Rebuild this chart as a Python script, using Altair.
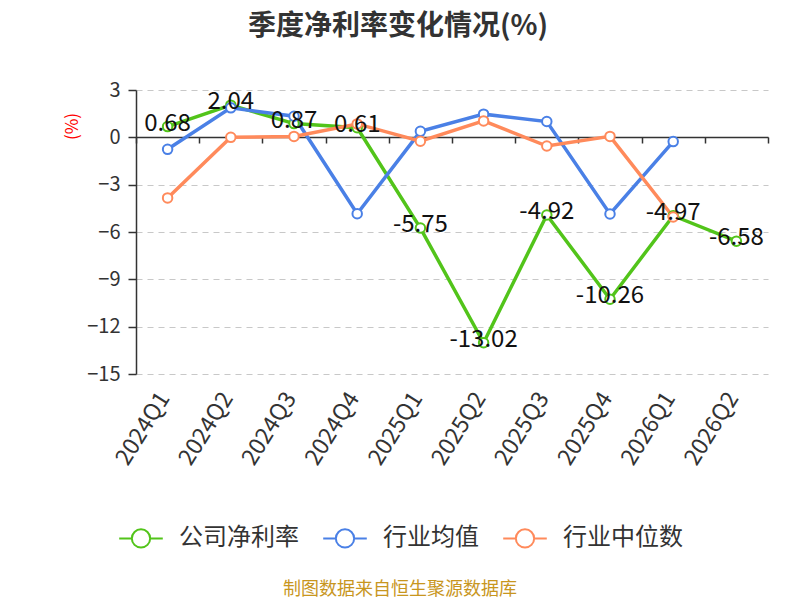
import altair as alt
import pandas as pd

quarters = ["2024Q1", "2024Q2", "2024Q3", "2024Q4", "2025Q1", "2025Q2", "2025Q3", "2025Q4", "2026Q1", "2026Q2"]
company = [0.68, 2.04, 0.87, 0.61, -5.75, -13.02, -4.92, -10.26, -4.97, -6.58]
ind_mean = [-0.76, 1.87, 1.34, -4.84, 0.38, 1.47, 1.00, -4.86, -0.27, None]
ind_median = [-3.84, 0.00, 0.06, 0.85, -0.25, 1.04, -0.55, 0.06, -5.05, None]
series_names = ["公司净利率", "行业均值", "行业中位数"]
colors = ["#52c41a", "#4a80e6", "#ff8a5b"]
y_ticks = [3, 0, -3, -6, -9, -12, -15]

FONT = "Noto Sans CJK SC"

rows = []
for name, vals in zip(series_names, [company, ind_mean, ind_median]):
    for q, v in zip(quarters, vals):
        if v is not None:
            rows.append({"季度": q, "系列": name, "值": v})
df = pd.DataFrame(rows)
df_company = df[df["系列"] == "公司净利率"].copy()
df_company["标签"] = df_company["值"].map(lambda v: f"{v:.2f}")

xscale = alt.Scale(type="band", domain=quarters, paddingInner=0, paddingOuter=0)
yscale = alt.Scale(domain=[-15, 3], nice=False, zero=False)
cscale = alt.Scale(domain=series_names, range=colors)

legend_symbol = "M -0.42 0 A 0.42 0.42 0 1 1 0.42 0 A 0.42 0.42 0 1 1 -0.42 0 Z M -1 0 L -0.42 0 M 0.42 0 L 1 0"

x_labels = alt.X("季度:N", scale=xscale, sort=quarters, bandPosition=0.5,
                 axis=alt.Axis(orient="bottom", title=None, domain=False, ticks=False,
                               labelAngle=302, labelAlign="right", labelBaseline="middle",
                               labelFontSize=23, labelColor="#333333", labelFont=FONT,
                               labelPadding=20, labelOffset=-3, grid=False))

y_enc = alt.Y("值:Q", scale=yscale,
              axis=alt.Axis(values=y_ticks, title="(%)", titleColor="red", titleFontSize=17,
                            titleFont=FONT, titleFontWeight="normal", titleAngle=270,
                            titleX=-64, titleY=36, titleAlign="center", titleBaseline="middle",
                            labelFontSize=20, labelColor="#333333", labelFont=FONT, labelPadding=8,
                            domainColor="#333333", domainWidth=1.5, tickColor="#333333",
                            tickSize=8, tickWidth=1.5,
                            grid=True, gridDash=[6, 5], gridColor="#c8c8c8", gridWidth=1.2))

lines = alt.Chart(df).mark_line(strokeWidth=3.5).encode(
    x=x_labels,
    y=y_enc,
    color=alt.Color("系列:N", scale=cscale, sort=series_names,
                    legend=alt.Legend(title=None, orient="none", direction="horizontal",
                                      legendX=-18, legendY=425,
                                      symbolType=legend_symbol, symbolSize=1900,
                                      symbolStrokeWidth=2, symbolFillColor="white",
                                      labelFontSize=24, labelColor="#333333", labelFont=FONT,
                                      labelOffset=15, columnPadding=20, symbolOpacity=1)),
    detail="系列:N",
)

points = alt.Chart(df).mark_point(filled=True, fill="white", size=90, strokeWidth=2, opacity=1).encode(
    x=alt.X("季度:N", scale=xscale, sort=quarters, bandPosition=0.5, axis=None),
    y=alt.Y("值:Q", scale=yscale),
    stroke=alt.Stroke("系列:N", scale=cscale, legend=None),
)

labels = alt.Chart(df_company).mark_text(fontSize=24, font=FONT, color="#111111",
                                          baseline="middle", dy=-3).encode(
    x=alt.X("季度:N", scale=xscale, sort=quarters, bandPosition=0.5, axis=None),
    y=alt.Y("值:Q", scale=yscale),
    text="标签:N",
)

zero_axis = alt.Chart(df_company).mark_point(opacity=0).encode(
    x=alt.X("季度:N", scale=xscale, sort=quarters, bandPosition=0.5,
            axis=alt.Axis(orient="bottom", title=None, labels=False, domain=True,
                          domainColor="#333333", domainWidth=1.5, ticks=True, tickBand="extent",
                          tickColor="#333333", tickSize=6, tickWidth=1.5, offset=-237, grid=False)),
    y=alt.Y("值:Q", scale=yscale),
)

footer = alt.Chart(df_company.head(1)).mark_text(
    text="制图数据来自恒生聚源数据库", fontSize=18, font=FONT, color="#c8961e",
    align="center", baseline="middle").encode(
    x=alt.value(264), y=alt.value(500))

chart = alt.layer(lines, points, zero_axis, labels, footer).resolve_axis(
    x="independent"
).resolve_scale(stroke="shared").properties(
    width=632, height=284,
    background="white",
    autosize=alt.AutoSizeParams(type="none"),
    padding={"left": 128, "top": 82, "right": 24, "bottom": 226},
    title=alt.TitleParams("季度净利率变化情况(%)", fontSize=28, fontWeight="bold", font=FONT,
                          color="#333333", anchor="middle", frame="group", dx=-54, offset=39),
).configure_view(strokeWidth=0, stroke="transparent")

chart.save("out.html", embed_options={"renderer": "svg", "actions": False})
